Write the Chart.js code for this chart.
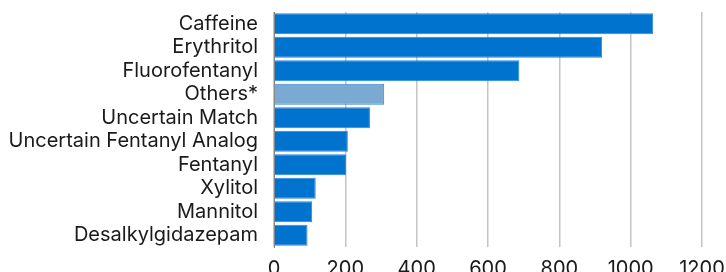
<!DOCTYPE html>
<html>
<head>
<meta charset="utf-8">
<script src="https://cdn.jsdelivr.net/npm/chart.js@4.4.0/dist/chart.umd.min.js"></script>
<style>
  html, body { margin: 0; padding: 0; background: #ffffff; overflow: hidden; }
  #wrap { position: relative; width: 726px; height: 291px; }
</style>
</head>
<body>
<div id="wrap"><canvas id="c"></canvas></div>
<script>
const categories = ["Caffeine", "Erythritol", "Fluorofentanyl", "Others*", "Uncertain Match",
  "Uncertain Fentanyl Analog", "Fentanyl", "Xylitol", "Mannitol", "Desalkylgidazepam"];
const counts = [1063, 920, 688, 309, 269, 207, 202, 117, 107, 94];
const xTicks = [0, 200, 400, 600, 800, 1000, 1200];

const barColors = categories.map(c => c === "Others*" ? "#7aaad2" : "#0073cf");
const borderColors = categories.map(c => c === "Others*" ? "#2f86d8" : "#2a86da");

new Chart(document.getElementById("c"), {
  type: "bar",
  data: {
    labels: categories,
    datasets: [{
      data: counts,
      backgroundColor: barColors,
      borderColor: borderColors,
      borderWidth: 1,
      barPercentage: 0.9,
      categoryPercentage: 1.0
    }]
  },
  options: {
    indexAxis: "y",
    responsive: true,
    maintainAspectRatio: false,
    animation: false,
    layout: { padding: { top: 12, right: 24, bottom: 0, left: 0 } },
    plugins: { legend: { display: false }, tooltip: { enabled: false } },
    scales: {
      x: {
        min: xTicks[0],
        max: xTicks[xTicks.length - 1],
        afterBuildTicks: s => { s.ticks = xTicks.map(v => ({ value: v })); },
        afterFit: s => { s.paddingRight = 0; s.paddingLeft = 0; },
        grid: { color: "#c4c4c4", lineWidth: 1.5, drawTicks: false },
        border: { display: false },
        ticks: { color: "#1a1a1a", padding: 10, autoSkip: false, maxRotation: 0,
                 callback: v => String(v), font: { family: "Inter", size: 20 } }
      },
      y: {
        afterFit: s => { s.width = 274; s.paddingTop = 0; s.paddingBottom = 0; },
        grid: { display: false, drawTicks: false },
        border: { display: true, color: "#888888", width: 1 },
        ticks: { color: "#1a1a1a", padding: 16, autoSkip: false, font: { family: "Inter", size: 20 } }
      }
    }
  }
});
</script>
</body>
</html>
